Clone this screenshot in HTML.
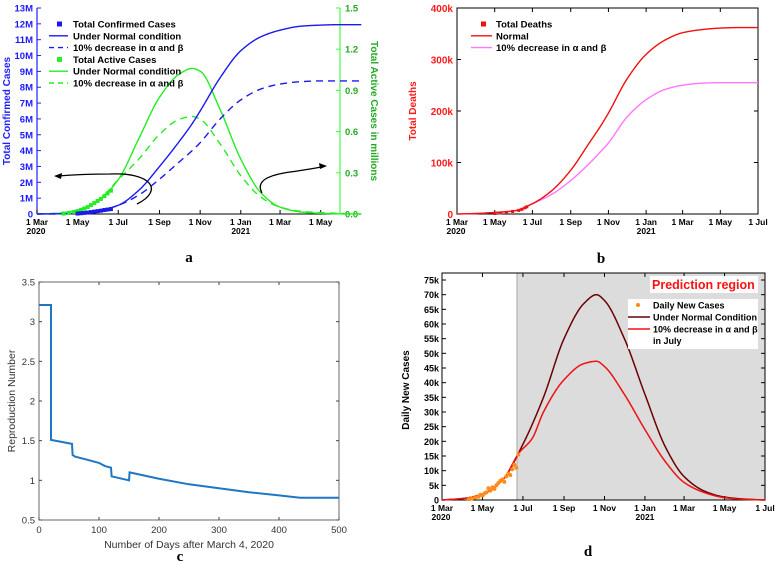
<!DOCTYPE html>
<html><head><meta charset="utf-8"><style>
body{margin:0;background:#fff}
svg{display:block;font-family:"Liberation Sans",Arial,sans-serif}
</style></head><body>
<svg id="s" width="777" height="565" viewBox="0 0 777 565" xmlns="http://www.w3.org/2000/svg"></svg>
<script>
// ---------- DATA ----------
// day offsets since 1 Mar 2020
const dDays=[0,31,61,92,122,153,184,214,233,245,275,306,337,365,396,426,457,487];
const dateTicks=[0,61,122,184,245,306,365,426,487];
const dateLabels=["1 Mar","1 May","1 Jul","1 Sep","1 Nov","1 Jan","1 Mar","1 May","1 Jul"];
// panel a (millions)
const aConfNormal=[0,0.01,0.05,0.2,0.55,1.5,3.0,4.6,5.7,6.5,8.6,10.3,11.2,11.6,11.85,11.92,11.95,11.95];
const aConfDec=[0,0.01,0.05,0.2,0.55,1.2,2.2,3.3,4.0,4.5,6.0,7.2,7.9,8.2,8.35,8.4,8.4,8.4];
const aActNormal=[0,0.005,0.03,0.1,0.25,0.55,0.85,1.02,1.06,1.04,0.76,0.4,0.15,0.05,0.015,0.005,0.001,0];
const aActDec=[0,0.005,0.03,0.1,0.25,0.4,0.58,0.69,0.71,0.69,0.51,0.28,0.12,0.05,0.02,0.01,0.004,0];
const aConfObsDays=[61,66,71,76,81,86,91,96,101,106,111];
const aConfObs=[0.03,0.05,0.07,0.09,0.12,0.15,0.18,0.21,0.25,0.28,0.31];
const aActObsDays=[40,48,56,61,66,71,76,81,86,91,96,101,106,111];
const aActObs=[0.003,0.008,0.015,0.02,0.03,0.04,0.05,0.065,0.08,0.095,0.11,0.13,0.15,0.17];
// panel b (thousands)
const bNormal=[0,1,3,6,20,45,85,138,172,196,262,310,338,352,358,361,362,362];
const bDec=[0,1,3,6,20,38,65,98,122,138,188,222,242,250,254,255,255,255];
const bObsDays=[61,70,80,90,100,105,110,113];
const bObs=[1,2,3,5,7,9,12,14];
// panel c
const cDays=[0,20,20,55,56,60,80,100,110,120,121,150,151,200,250,300,350,400,435,500];
const cR=[3.21,3.21,1.51,1.46,1.32,1.30,1.26,1.22,1.18,1.16,1.05,1.00,1.10,1.02,0.95,0.90,0.85,0.81,0.78,0.78];
// panel d (thousands)
const dNormal=[0,0.5,2,7,19,35,55,67,70,68,55,36,18,8,3,1,0.3,0];
const dDecDays=[0,31,61,92,116,136,153,184,214,233,245,275,306,337,365,396,426,457,487];
const dDec=[0,0.5,2,7,16,21,30,41,46.5,47.3,45.5,36,24,13,6,2.5,0.8,0.2,0];
const dObsDays=[40,45,50,55,58,61,64,67,70,73,76,79,82,85,88,91,94,97,100,103,106,109,112,115];
const dObs=[0.3,0.5,0.8,1.1,1.8,1.5,2.2,2.6,4,3.2,4.3,3.8,5,5.8,6.5,7,6.2,8,9,8.5,10.5,12,11,15.5];

// ---------- HELPERS ----------
const S=document.getElementById('s');const NS='http://www.w3.org/2000/svg';
function E(t,a,p){const e=document.createElementNS(NS,t);for(const k in a)e.setAttribute(k,a[k]);(p||S).appendChild(e);return e;}
function T(x,y,str,a,p){const e=E('text',Object.assign({x:x,y:y},a),p);e.textContent=str;return e;}
function mono(xs,ys){const n=xs.length,d=[],m=[];for(let i=0;i<n-1;i++)d.push((ys[i+1]-ys[i])/(xs[i+1]-xs[i]));
 m[0]=d[0];m[n-1]=d[n-2];for(let i=1;i<n-1;i++){if(d[i-1]*d[i]<=0)m[i]=0;else{const w1=2*(xs[i+1]-xs[i])+(xs[i]-xs[i-1]),w2=(xs[i+1]-xs[i])+2*(xs[i]-xs[i-1]);m[i]=(w1+w2)/(w1/d[i-1]+w2/d[i]);}}
 return x=>{let i=0;while(i<n-2&&x>xs[i+1])i++;const h=xs[i+1]-xs[i],t=(x-xs[i])/h,t2=t*t,t3=t2*t;
 return (2*t3-3*t2+1)*ys[i]+(t3-2*t2+t)*h*m[i]+(-2*t3+3*t2)*ys[i+1]+(t3-t2)*h*m[i+1];};}
function curve(xs,ys,X,Y,st,name){const f=mono(xs,ys);const pts=[];const x0=xs[0],x1=xs[xs.length-1];
 for(let x=x0;x<=x1;x+=1)pts.push(X(x).toFixed(2)+','+Y(f(x)).toFixed(2));
 const p=E('polyline',Object.assign({points:pts.join(' '),fill:'none','stroke-linejoin':'round'},st));return p;}
function lin(d0,d1,r0,r1){return v=>r0+(v-d0)/(d1-d0)*(r1-r0);}
function dateAxis(X,y,L,R,top){E('line',{x1:L,y1:y,x2:R,y2:y,stroke:'#000','stroke-width':1});
 dateTicks.forEach((d,i)=>{const x=X(d);if(x>R+1)return;E('line',{x1:x,y1:y,x2:x,y2:y-4,stroke:'#000'});if(top!==undefined)E('line',{x1:x,y1:top,x2:x,y2:top+4,stroke:'#000'});
 const t=T(x,y+11,dateLabels[i],{'font-size':8.5,'font-weight':'bold','text-anchor':'middle'});});
 T(L-1,y+20,'2020',{'font-size':8.5,'font-weight':'bold','text-anchor':'middle'});T(X(306),y+20,'2021',{'font-size':8.5,'font-weight':'bold','text-anchor':'middle'});}

// ---------- PANEL A ----------
(function(){const L=37,R=340,B=214,Tp=8;const X=lin(0,455,L,R),Y=lin(0,13,B,Tp),Y2=lin(0,1.5,B,Tp);
 E('line',{x1:L,y1:Tp,x2:L,y2:B,stroke:'#2020ff','stroke-width':1.2});E('line',{x1:R,y1:Tp,x2:R,y2:B,stroke:'#40ff40','stroke-width':1.2});
 for(let v=0;v<=13;v++){const y=Y(v);E('line',{x1:L,y1:y,x2:L+4,y2:y,stroke:'#2020ff'});const t=T(L-4,y+3.5,v==0?'0':v+'M',{'font-size':9.5,'font-weight':'bold',fill:'#1a1aff','text-anchor':'end'});}
 [0,0.3,0.6,0.9,1.2,1.5].forEach(v=>{const y=Y2(v);E('line',{x1:R,y1:y,x2:R-4,y2:y,stroke:'#40ff40'});T(R+5,y+3.5,v.toFixed(1),{'font-size':9.5,'font-weight':'bold',fill:'#22aa22'});});
 dateAxis(X,B,L,R);
 T(0,0,'Total Confirmed Cases',{'font-size':10,'font-weight':'bold',fill:'#2020ff','text-anchor':'middle',transform:'translate(10,111) rotate(-90)'});
 T(0,0,'Total Active Cases in millions',{'font-size':10,'font-weight':'bold',fill:'#22aa22','text-anchor':'middle',transform:'translate(371,111) rotate(90)'});
 curve(dDays,aActNormal,X,Y2,{stroke:'#22ee22','stroke-width':1.4},'active-normal-line');
 curve(dDays,aActDec,X,Y2,{stroke:'#22ee22','stroke-width':1.4,'stroke-dasharray':'7,5'},'active-decrease-line');
 curve(dDays,aConfNormal,X,Y,{stroke:'#1a1aee','stroke-width':1.4},'confirmed-normal-line');
 curve(dDays,aConfDec,X,Y,{stroke:'#1a1aee','stroke-width':1.4,'stroke-dasharray':'7,5'},'confirmed-decrease-line');
 aActObsDays.forEach((d,i)=>{const r=E('rect',{x:X(d)-2,y:Y2(aActObs[i])-2,width:4,height:4,fill:'#22ee22'});});
 aConfObsDays.forEach((d,i)=>{const r=E('rect',{x:X(d)-2,y:Y(aConfObs[i])-2,width:4,height:4,fill:'#1a1aee'});});
 E('path',{d:'M137,204 C165,190 150,172 110,174 C85,174 70,175 58,176',fill:'none',stroke:'#000','stroke-width':1.3});
 E('path',{d:'M54,176 L62,173 L61,179 Z',fill:'#000'});
 E('path',{d:'M262,193 C255,180 270,175 290,172 C305,170 315,168 322,167',fill:'none',stroke:'#000','stroke-width':1.3});
 E('path',{d:'M327,166 L319,163 L320,169 Z',fill:'#000'});
 const lg=[['sq','#1a1aee','Total Confirmed Cases'],['l','#1a1aee','Under Normal condition'],['d','#1a1aee','10% decrease in \u03b1  and \u03b2'],['sq','#22ee22','Total Active  Cases'],['l','#22ee22','Under Normal condition'],['d','#22ee22','10% decrease in \u03b1  and \u03b2']];
 lg.forEach((e,i)=>{const y=24+i*11.8;if(e[0]=='sq')E('rect',{x:57,y:y-2.5,width:5,height:5,fill:e[1]});else E('line',{x1:49,y1:y,x2:68,y2:y,stroke:e[1],'stroke-width':1.4,'stroke-dasharray':e[0]=='d'?'5,4':'none'});
 const t=T(73,y+3.5,e[2],{'font-size':9.5,'font-weight':'bold'});});
 T(189,262,'a',{'font-size':15,'font-weight':'bold','font-family':'Liberation Serif','text-anchor':'middle'});
})();

// ---------- PANEL B ----------
(function(){const L=457,R=758,B=214,Tp=8;const X=lin(0,487,L,R),Y=lin(0,400,B,Tp);
 E('rect',{x:L,y:Tp,width:R-L,height:B-Tp,fill:'none',stroke:'#000','stroke-width':1});
 [0,100,200,300,400].forEach(v=>{const y=Y(v);E('line',{x1:L,y1:y,x2:L+4,y2:y,stroke:'#000'});E('line',{x1:R,y1:y,x2:R-4,y2:y,stroke:'#000'});const t=T(L-4,y+4,v==0?'0':v+'k',{'font-size':10,'font-weight':'bold',fill:'#ff1a1a','text-anchor':'end'});});
 dateAxis(X,B,L,R,Tp);
 T(0,0,'Total Deaths',{'font-size':10,'font-weight':'bold',fill:'#ff1a1a','text-anchor':'middle',transform:'translate(416,111) rotate(-90)'});
 curve(dDays,bDec,X,Y,{stroke:'#ff77ff','stroke-width':1.4},'deaths-decrease-line');
 curve(dDays,bNormal,X,Y,{stroke:'#ee1111','stroke-width':1.4},'deaths-normal-line');
 bObsDays.forEach((d,i)=>{const r=E('rect',{x:X(d)-1.5,y:Y(bObs[i])-1.5,width:3,height:3,fill:'#ee1111'});});
 const lg=[['sq','#ee1111','Total Deaths'],['l','#ee1111','Normal'],['l','#ff77ff','10% decrease in \u03b1  and \u03b2']];
 lg.forEach((e,i)=>{const y=24+i*11.8;if(e[0]=='sq')E('rect',{x:481,y:y-2.5,width:5,height:5,fill:e[1]});else E('line',{x1:471,y1:y,x2:492,y2:y,stroke:e[1],'stroke-width':1.4});
 const t=T(496,y+3.5,e[2],{'font-size':9.5,'font-weight':'bold'});});
 T(601,263,'b',{'font-size':15,'font-weight':'bold','font-family':'Liberation Serif','text-anchor':'middle'});
})();

// ---------- PANEL C ----------
(function(){const L=39,R=339,B=520,Tp=282;const X=lin(0,500,L,R),Y=lin(0.5,3.5,B,Tp);
 E('rect',{x:L,y:Tp,width:R-L,height:B-Tp,fill:'none',stroke:'#444','stroke-width':0.8});
 [0.5,1,1.5,2,2.5,3,3.5].forEach(v=>{const y=Y(v);E('line',{x1:L,y1:y,x2:L+3,y2:y,stroke:'#444'});E('line',{x1:R,y1:y,x2:R-3,y2:y,stroke:'#444'});const t=T(L-4,y+3.5,String(v),{'font-size':9.5,fill:'#333','text-anchor':'end'});});
 [0,100,200,300,400,500].forEach(v=>{const x=X(v);E('line',{x1:x,y1:B,x2:x,y2:B-3,stroke:'#444'});E('line',{x1:x,y1:Tp,x2:x,y2:Tp+3,stroke:'#444'});const t=T(x,B+13,String(v),{'font-size':9.5,fill:'#333','text-anchor':'middle'});});
 T(189,548,'Number of Days after March 4, 2020',{'font-size':10.5,fill:'#333','text-anchor':'middle'});
 T(0,0,'Reproduction Number',{'font-size':10.5,fill:'#333','text-anchor':'middle',transform:'translate(15,401) rotate(-90)'});
 const pl=E('polyline',{points:cDays.map((d,i)=>X(d)+','+Y(cR[i])).join(' '),fill:'none',stroke:'#1f77c4','stroke-width':2});
 
 T(180,561,'c',{'font-size':15,'font-weight':'bold','font-family':'Liberation Serif','text-anchor':'middle'});
})();

// ---------- PANEL D ----------
(function(){const L=442,R=765,B=500,Tp=273;const X=lin(0,487,L,R),Y=lin(0,75,B,280);
 const sh=E('rect',{x:X(113),y:Tp,width:R-X(113),height:B-Tp,fill:'#dcdcdc'});
 E('line',{x1:X(113),y1:Tp,x2:X(113),y2:B,stroke:'#999','stroke-width':0.8});
 E('rect',{x:L,y:Tp,width:R-L,height:B-Tp,fill:'none',stroke:'#000','stroke-width':1});
 for(let v=0;v<=75;v+=5){const y=Y(v);E('line',{x1:L,y1:y,x2:L+4,y2:y,stroke:'#000'});E('line',{x1:R,y1:y,x2:R-4,y2:y,stroke:'#000'});const t=T(L-3,y+3.5,v==0?'0':v+'k',{'font-size':9,'font-weight':'bold','text-anchor':'end'});}
 dateAxis(X,B,L,R,Tp);
 T(0,0,'Daily New Cases',{'font-size':10,'font-weight':'bold','text-anchor':'middle',transform:'translate(409,390) rotate(-90)'});
 curve(dDays,dNormal,X,Y,{stroke:'#6b0000','stroke-width':1.5},'daily-normal-line');
 curve(dDecDays,dDec,X,Y,{stroke:'#ee1111','stroke-width':1.5},'daily-decrease-line');
 dObsDays.forEach((d,i)=>{const c=E('circle',{cx:X(d),cy:Y(dObs[i]),r:2,fill:'#ff8c1a'});});
 E('rect',{x:650,y:276,width:108,height:17,fill:'#fff'});
 T(652,289,'Prediction region',{'font-size':12.5,'font-weight':'bold',fill:'#ff1111'});
 E('rect',{x:628,y:299,width:130,height:50,fill:'#fff'});
 E('circle',{cx:638,cy:305,r:2,fill:'#ff8c1a'});
 E('line',{x1:628,y1:317,x2:650,y2:317,stroke:'#6b0000','stroke-width':1.5});
 E('line',{x1:628,y1:329,x2:650,y2:329,stroke:'#ee1111','stroke-width':1.5});
 [['Daily New Cases',308.5],['Under Normal Condition',320.5],['10% decrease in \u03b1  and \u03b2',332.5],['in July',344]].forEach(e=>{const t=T(653,e[1],e[0],{'font-size':9,'font-weight':'bold'});});
 T(588,556,'d',{'font-size':15,'font-weight':'bold','font-family':'Liberation Serif','text-anchor':'middle'});
})();
</script>
</body></html>
